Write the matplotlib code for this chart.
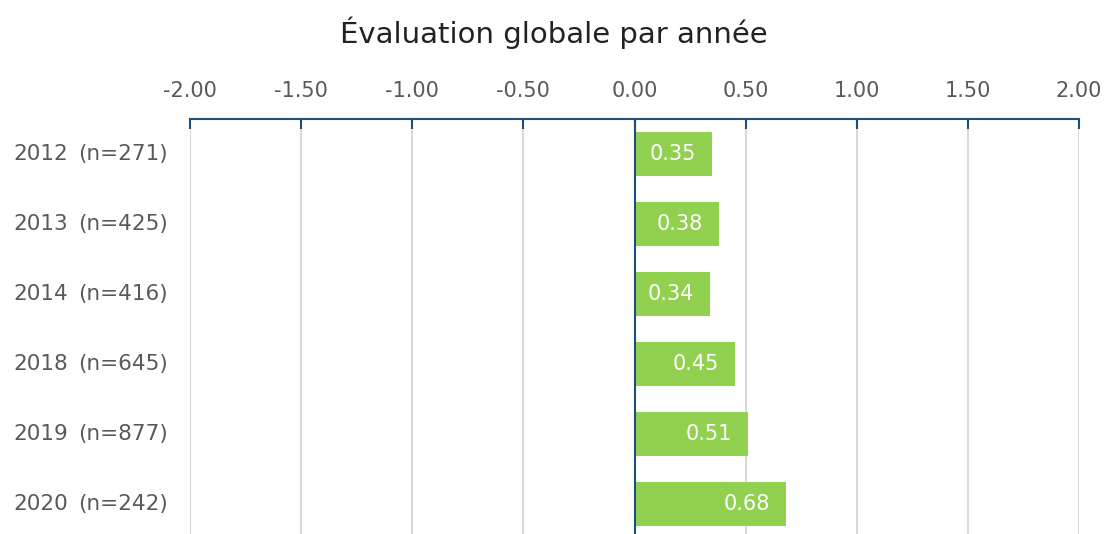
import matplotlib.pyplot as plt
import numpy as np

years = ["2012", "2013", "2014", "2018", "2019", "2020"]
counts = ["(n=271)", "(n=425)", "(n=416)", "(n=645)", "(n=877)", "(n=242)"]
scores = [0.35, 0.38, 0.34, 0.45, 0.51, 0.68]
ticks = [-2.0, -1.5, -1.0, -0.5, 0.0, 0.5, 1.0, 1.5, 2.0]

green = "#92D050"
navy = "#1F4E79"
grey = "#595959"

plt.rcParams['font.family'] = ['DejaVu Sans']

fig = plt.figure(figsize=(11.07, 5.34), dpi=100)
ax = fig.add_axes([190/1107, -5/534, 889/1107, 420/534])

y = np.arange(len(years))
ax.barh(y, scores, height=0.63, color=green, zorder=3)
for yi, v in zip(y, scores):
    ax.annotate("%.2f" % v, (v, yi), xytext=(-11.5, 0), textcoords="offset points",
                ha="right", va="center", color="white", fontsize=15, zorder=4)

ax.set_xlim(-2, 2)
ax.set_ylim(len(years) - 0.5, -0.5)
ax.set_xticks(ticks)
ax.set_xticklabels(["%.2f" % t for t in ticks])
ax.xaxis.tick_top()
ax.tick_params(axis="x", direction="in", length=7, width=1.5, color=navy,
               labelcolor=grey, labelsize=15, pad=13)
ax.set_yticks(y)
ax.set_yticklabels([])
ax.tick_params(axis="y", length=0)
for yi, yr, c in zip(y, years, counts):
    ax.annotate(yr, (0, yi), xycoords=ax.get_yaxis_transform(), xytext=(-88, 0),
                textcoords="offset points", ha="right", va="center",
                fontsize=15.5, color=grey)
    ax.annotate(c, (0, yi), xycoords=ax.get_yaxis_transform(), xytext=(-16, 0),
                textcoords="offset points", ha="right", va="center",
                fontsize=15.5, color=grey)

ax.grid(axis="x", color="#D9D9D9", linewidth=1.5, zorder=0)
ax.axvline(0, color=navy, linewidth=1.5, zorder=5)
for s in ["right", "bottom", "left"]:
    ax.spines[s].set_visible(False)
ax.spines["top"].set_color(navy)
ax.spines["top"].set_linewidth(1.5)

fig.text(0.5, 1 - 33/534, "Évaluation globale par année", ha="center", va="center",
         fontsize=21, color="#222222")

fig.savefig("out.png", dpi=100)
